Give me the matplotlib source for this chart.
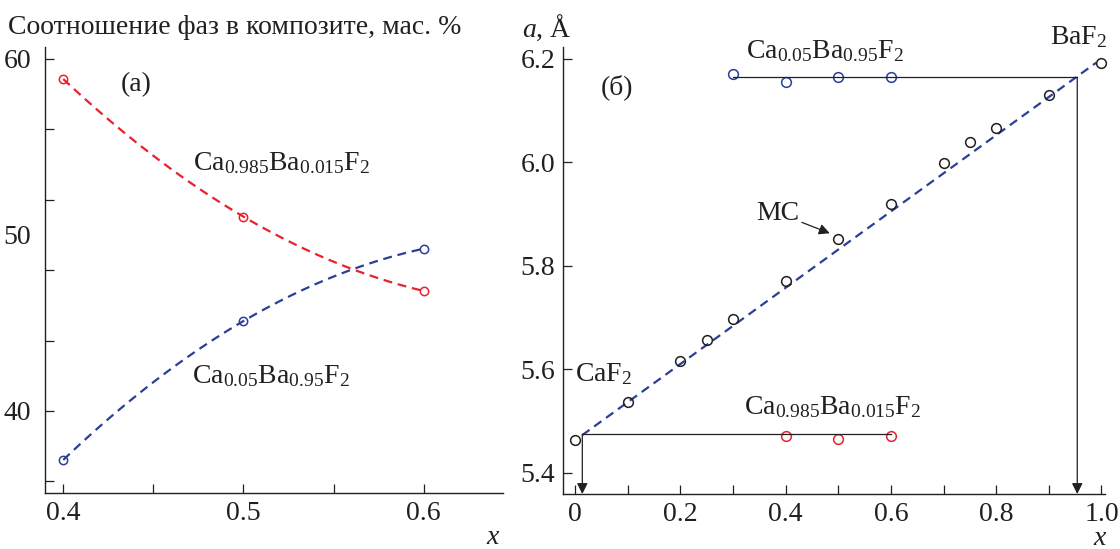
import matplotlib
matplotlib.use("Agg")
import matplotlib.pyplot as plt
import numpy as np
from matplotlib.ticker import FixedLocator, FuncFormatter

plt.rcParams["font.family"] = ["Liberation Serif", "DejaVu Serif"]
plt.rcParams["mathtext.fontset"] = "custom"
plt.rcParams["mathtext.rm"] = "Liberation Serif"
plt.rcParams["mathtext.it"] = "Liberation Serif:italic"

ink = "#231f20"
red = "#e8212e"
blue = "#2a3f98"

# (а) phase ratio in composite, wt. %
x_comp = [0.4, 0.5, 0.6]
phase_ca = [58.86, 51.04, 46.82]   # Ca0.985Ba0.015F2
phase_ba = [37.22, 45.11, 49.22]   # Ca0.05Ba0.95F2

# (б) lattice parameter, Å
x_mc = [0.0, 0.1, 0.2, 0.25, 0.3, 0.4, 0.5, 0.6, 0.7, 0.75, 0.8, 0.9, 1.0]
a_mc = [5.463, 5.537, 5.617, 5.657, 5.698, 5.770, 5.851, 5.919, 5.998, 6.040, 6.067, 6.131, 6.193]
x_ba_phase = [0.3, 0.4, 0.5, 0.6]
a_ba_phase = [6.170, 6.156, 6.165, 6.165]
x_ca_phase = [0.4, 0.5, 0.6]
a_ca_phase = [5.471, 5.466, 5.471]
vegard_x = [0.014, 0.99]
vegard_a = [5.4729, 6.1927]
a_ba_level = 6.1645
a_ca_level = 5.4744
x_ba_cross = 0.954
x_ca_cross = 0.014

fs = 20
fig = plt.figure(figsize=(11.2, 5.49), dpi=100)
ax1 = fig.add_axes([0.0404, 0.102, 0.4087, 0.8124])
ax2 = fig.add_axes([0.503, 0.1002, 0.4836, 0.8142])

for ax in (ax1, ax2):
    for side in ("top", "right"):
        ax.spines[side].set_visible(False)
    for side in ("left", "bottom"):
        ax.spines[side].set_color(ink)
        ax.spines[side].set_linewidth(1.0)
    ax.tick_params(which="both", direction="in", length=6.5, width=0.9,
                   color=ink, labelcolor=ink, labelsize=fs, pad=6)

# ---- panel (а)
xf = np.linspace(x_comp[0], x_comp[-1], 100)
for yv, col in ((phase_ca, red), (phase_ba, blue)):
    fit = np.polyfit(x_comp, yv, 2)
    ax1.plot(xf, np.polyval(fit, xf), color=col, lw=1.6, dashes=(4, 2.6))
    ax1.plot(x_comp, yv, "o", ms=6, mfc="none", mec=col, mew=1.1)

ax1.set_xlim(0.39, 0.644)
ax1.set_ylim(35.34, 60.68)
ax1.xaxis.set_major_locator(FixedLocator([0.4, 0.5, 0.6]))
ax1.xaxis.set_minor_locator(FixedLocator([0.45, 0.55]))
ax1.xaxis.set_major_formatter(FuncFormatter(lambda v, p: f"{v:.1f}"))
ax1.yaxis.set_major_locator(FixedLocator([40, 50, 60]))
ax1.yaxis.set_minor_locator(FixedLocator(np.arange(36, 61, 4)))
ax1.yaxis.remove_overlapping_locs = False
ax1.tick_params(axis="y", which="major", length=0, pad=10)
ax1.yaxis.set_major_formatter(FuncFormatter(lambda v, p: f"{v:.0f}"))

ax1.text(0.4406, 58.52, "(а)", fontsize=fs, color=ink, ha="center", va="center")
ax1.text(0.472, 53.69, r"Ca$_{0.985}$Ba$_{0.015}$F$_2$", fontsize=fs, color=ink,
         ha="left", va="baseline")
ax1.text(0.4715, 41.57, r"Ca$_{0.05}$Ba$_{0.95}$F$_2$", fontsize=fs, color=ink,
         ha="left", va="baseline")
ax1.set_xlabel("x", fontsize=fs, style="italic", color=ink)
ax1.xaxis.set_label_coords(0.978, -0.071)

# ---- panel (б)
ax2.plot(vegard_x, vegard_a, color=blue, lw=1.6, dashes=(4, 2.6))
ax2.plot(x_mc, a_mc, "o", ms=7, mfc="none", mec=ink, mew=1.1, clip_on=False)
ax2.plot(x_ba_phase, a_ba_phase, "o", ms=7, mfc="none", mec=blue, mew=1.1)
ax2.plot(x_ca_phase, a_ca_phase, "o", ms=7, mfc="none", mec=red, mew=1.1)

ax2.plot([x_ba_phase[0], x_ba_cross], [a_ba_level, a_ba_level], color=ink, lw=0.9)
ax2.plot([x_ca_cross, x_ca_phase[-1]], [a_ca_level, a_ca_level], color=ink, lw=0.9)
ax2.set_xlim(-0.022, 1.0067)
ax2.set_ylim(5.359, 6.223)
for xc, yc in ((x_ba_cross, a_ba_level), (x_ca_cross, a_ca_level)):
    ax2.annotate("", xy=(xc, 5.359), xytext=(xc, yc),
                 arrowprops=dict(arrowstyle="-|>", color=ink, lw=0.9,
                                 mutation_scale=16, shrinkA=0, shrinkB=0))

ax2.annotate("", xy=(0.484, 5.863), xytext=(0.431, 5.884),
             arrowprops=dict(arrowstyle="-|>", color=ink, lw=0.9,
                             mutation_scale=16, shrinkA=0, shrinkB=0))
ax2.text(0.386, 5.901, "MC", fontsize=fs, color=ink, ha="center", va="center")

ax2.xaxis.set_major_locator(FixedLocator(np.arange(0, 1.01, 0.2)))
ax2.xaxis.set_minor_locator(FixedLocator(np.arange(0.1, 1.0, 0.2)))
ax2.xaxis.set_major_formatter(FuncFormatter(lambda v, p: "0" if abs(v) < 1e-9 else f"{v:.1f}"))
ax2.yaxis.set_major_locator(FixedLocator(np.arange(5.4, 6.21, 0.2)))
ax2.yaxis.set_major_formatter(FuncFormatter(lambda v, p: f"{v:.1f}"))

ax2.text(0.08, 6.146, "(б)", fontsize=fs, color=ink, ha="center", va="center")
ax2.text(0.325, 6.202, r"Ca$_{0.05}$Ba$_{0.95}$F$_2$", fontsize=fs, color=ink,
         ha="left", va="baseline", clip_on=False)
ax2.text(0.902, 6.229, r"BaF$_2$", fontsize=fs, color=ink, ha="left", va="baseline",
         clip_on=False)
ax2.text(0.0, 5.578, r"CaF$_2$", fontsize=fs, color=ink, ha="left", va="baseline")
ax2.text(0.321, 5.514, r"Ca$_{0.985}$Ba$_{0.015}$F$_2$", fontsize=fs, color=ink,
         ha="left", va="baseline")
ax2.set_xlabel("x", fontsize=fs, style="italic", color=ink)
ax2.xaxis.set_label_coords(0.99, -0.071)

fig.text(8 / 1120, 1 - 28 / 549, "Соотношение фаз в композите, мас. %", fontsize=fs,
         color=ink, ha="left", va="center")
fig.text(522 / 1120, 1 - 28 / 549, r"$a$, Å", fontsize=fs, color=ink,
         ha="left", va="center")

fig.savefig("out.png", dpi=100)
